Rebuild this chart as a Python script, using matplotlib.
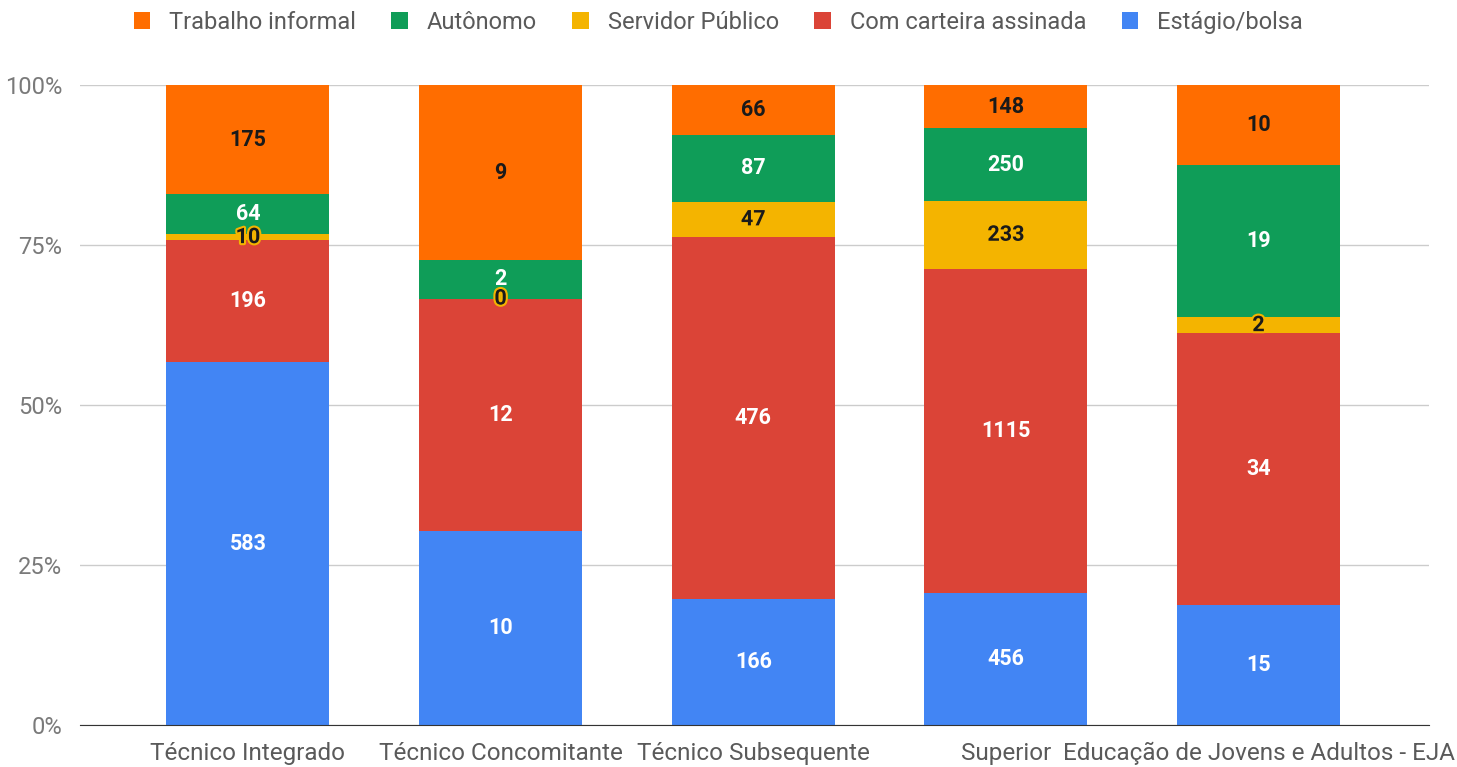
import numpy as np
import matplotlib
matplotlib.use('Agg')
import matplotlib.pyplot as plt
import matplotlib.patheffects as pe

plt.rcParams['font.family'] = ['Roboto', 'DejaVu Sans']

categories = ['Técnico Integrado', 'Técnico Concomitante', 'Técnico Subsequente',
              'Superior', 'Educação de Jovens e Adultos - EJA']
estagio = [583, 10, 166, 456, 15]
carteira = [196, 12, 476, 1115, 34]
servidor = [10, 0, 47, 233, 2]
autonomo = [64, 2, 87, 250, 19]
informal = [175, 9, 66, 148, 10]

series = [
    ('Estágio/bolsa', estagio, '#4285F4', 'white'),
    ('Com carteira assinada', carteira, '#DB4437', 'white'),
    ('Servidor Público', servidor, '#F4B400', '#1a1a1a'),
    ('Autônomo', autonomo, '#0F9D58', 'white'),
    ('Trabalho informal', informal, '#FF6D00', '#1a1a1a'),
]

totals = np.sum([s[1] for s in series], axis=0).astype(float)
x = np.arange(len(categories))

fig = plt.figure(figsize=(14.57, 7.67), dpi=100)
ax = fig.add_axes([0.055, 0.0548, 0.926, 0.834])

bottom = np.zeros(len(categories))
handles = {}
for name, vals, color, tcolor in series:
    frac = np.array(vals) / totals
    bars = ax.bar(x, frac, 0.645, bottom=bottom, color=color, zorder=2)
    handles[name] = bars
    for xi, b, f, v in zip(x, bottom, frac, vals):
        t = ax.text(xi, b + f / 2, str(v), ha='center', va='center',
                    color=tcolor, fontsize=15.5, fontweight='bold', zorder=3)
        if name == 'Servidor Público':
            t.set_path_effects([pe.withStroke(linewidth=3, foreground=color)])
    bottom += frac

ax.set_xlim(-0.664, 4.676)
ax.set_ylim(0, 1)
ax.set_yticks([0, 0.25, 0.5, 0.75, 1.0])
ax.set_yticklabels(['0%', '25%', '50%', '75%', '100%'])
ax.set_xticks(x)
ax.set_xticklabels(categories)
ax.tick_params(axis='both', length=0)
ax.tick_params(axis='y', pad=13, colors='#7a7a7a', labelsize=17)
ax.tick_params(axis='x', pad=12, colors='#5a5a5a', labelsize=17.5)
ax.grid(axis='y', color='#cccccc', linewidth=1, zorder=0)
for s in ['top', 'right', 'left']:
    ax.spines[s].set_visible(False)
ax.spines['bottom'].set_color('#333333')
ax.spines['bottom'].set_zorder(4)

order = ['Trabalho informal', 'Autônomo', 'Servidor Público',
         'Com carteira assinada', 'Estágio/bolsa']
fig.legend([handles[n] for n in order], order, loc='center', ncol=5,
           bbox_to_anchor=(0.493, 0.971), frameon=False, fontsize=17,
           handlelength=0.7, handleheight=0.7, handletextpad=0.8,
           columnspacing=1.5, labelcolor='#5a5a5a')

fig.savefig('out.png', dpi=100)
